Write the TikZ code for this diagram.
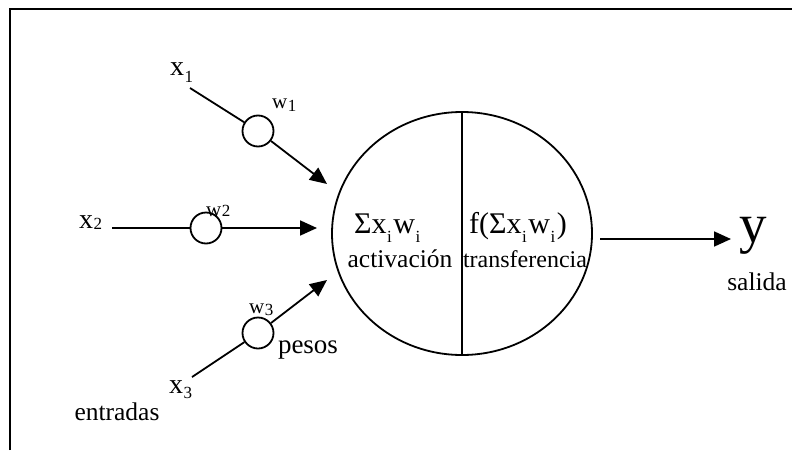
\documentclass[tikz,border=0pt]{standalone}
\usepackage{fontspec}
\setmainfont{Liberation Serif}
\usetikzlibrary{shapes.geometric,arrows.meta,positioning}
\tikzset{
  lbl/.style={inner sep=0pt, font=\fontsize{28}{30}\selectfont},
  wlbl/.style={inner sep=0pt, font=\fontsize{21}{23}\selectfont},
  txt/.style={inner sep=0pt, font=\fontsize{25.5}{27}\selectfont},
  formula/.style={inner sep=0pt, font=\fontsize{30}{32}\selectfont},
  peso/.style={circle, draw, line width=1.8pt, minimum size=31pt, inner sep=0pt},
  neurona/.style={ellipse, draw, line width=1.8pt, minimum width=260pt, minimum height=243pt, inner sep=0pt},
  linea/.style={line width=1.8pt},
  flecha/.style={linea, -{Triangle[length=17pt, width=15pt]}}
}
\newcommand{\ind}[2][0.3em]{\kern0.5pt\raisebox{-#1}{\fontsize{17}{17}\selectfont #2}\kern1.5pt}
\begin{document}
\begin{tikzpicture}[x=1pt, y=-1pt]
\useasboundingbox (0,0) rectangle (792,450);
\draw[line width=1.8pt] (10,450) -- (10,9) -- (792,9);

% neurona y pesos
\node[neurona] (neurona) at (462,233.5) {};
\node[peso] (w1) at (258,131) {};
\node[peso] (w2) at (206,228) {};
\node[peso] (w3) at (258,333) {};

% entradas
\node[lbl, anchor=base west] (x1) at (170,75) {x\ind[0.28em]{1}};
\node[lbl, anchor=base west] (x2) at (79,228) {x\ind[0.07em]{2}};
\node[lbl, anchor=base west] (x3) at (169,393) {x\ind[0.18em]{3}};
\node[wlbl, anchor=base west] (lw1) at (272,108) {w\ind[0.18em]{1}};
\node[wlbl, anchor=base west] (lw2) at (206,216) {w\ind[0em]{2}};
\node[wlbl, anchor=base west] (lw3) at (249,313) {w\ind[0.1em]{3}};
\node[txt, font=\fontsize{27}{29}\selectfont] (pesos) at (308,350) {pesos};
\node[txt] (entradas) at (117,412) {entradas};

\coordinate (s1) at (190,88);
\coordinate (s2) at (112,228);
\coordinate (s3) at (192,377);
\coordinate (e1) at (327,184);
\coordinate (e2) at (317,228);
\coordinate (e3) at (327,280);
\coordinate (o1) at (600,239);
\coordinate (o2) at (731,239);

\draw[linea] (s1) -- (w1); \draw[flecha] (w1) -- (e1);
\draw[linea] (s2) -- (w2); \draw[flecha] (w2) -- (e2);
\draw[linea] (s3) -- (w3); \draw[flecha] (w3) -- (e3);

% dentro de la neurona
\draw[linea] (neurona.north) -- (neurona.south);
\node[formula, anchor=base west] (suma) at (354,233) {Σx\ind{i}w\ind{i}};
\node[txt, anchor=base] (activacion) at (400,267) {activación};
\node[formula, anchor=base west] (funcion) at (469,233) {f(Σx\ind{i}w\ind{i})};
\node[txt, anchor=base, font=\fontsize{24}{26}\selectfont] (transferencia) at (525,267) {transferencia};

% salida
\draw[flecha] (o1) -- (o2);
\node[inner sep=0pt, font=\fontsize{55}{57}\selectfont] (y) at (753,236) {y};
\node[txt] (salida) at (757,282) {salida};
\end{tikzpicture}
\end{document}
